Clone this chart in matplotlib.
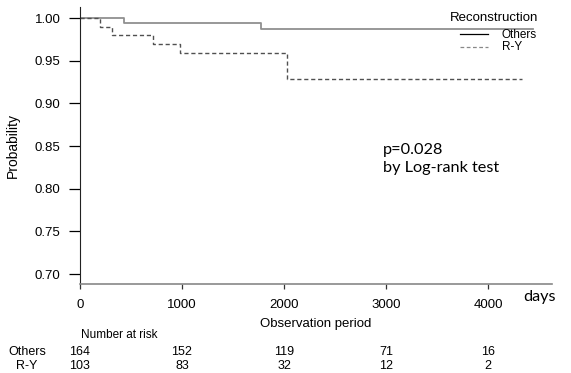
import matplotlib.pyplot as plt
import matplotlib.transforms as mtransforms

# Curvas de sobrevida (Kaplan-Meier)
others_dias = [0, 430, 1771, 4440]
others_prob = [1.000, 0.994, 0.987, 0.987]
ry_dias = [0, 196, 317, 719, 980, 2033, 4330]
ry_prob = [1.000, 0.990, 0.980, 0.970, 0.959, 0.928, 0.928]

# Tabela de numero em risco
tempos_risco = [0, 1000, 2000, 3000, 4000]
risco_others = [164, 152, 119, 71, 16]
risco_ry = [103, 83, 32, 12, 2]

x_ticks = [0, 1000, 2000, 3000, 4000]
y_ticks = [0.70, 0.75, 0.80, 0.85, 0.90, 0.95, 1.00]

plt.rcParams['font.family'] = ['Liberation Sans', 'DejaVu Sans']

fig = plt.figure(figsize=(5.71, 3.73), dpi=100)
ax = fig.add_axes([0.140, 0.2386, 0.827, 0.7425])

ax.step(others_dias, others_prob, where='post', color='#909090', linewidth=1.3)
ax.step(ry_dias, ry_prob, where='post', color='#505050', linewidth=1.0,
        linestyle=(0, (3, 2)))

ax.set_xlim(0, 4627)
ax.set_ylim(0.6883, 1.0129)
ax.set_xticks(x_ticks)
ax.set_yticks(y_ticks)
ax.set_yticklabels(['%.2f' % v for v in y_ticks])
ax.tick_params(axis='y', labelsize=9.5, length=8, width=0.9, pad=6)
ax.tick_params(axis='x', labelsize=9.5, length=3.5, width=0.9, pad=7,
               colors='#333333', labelcolor='black')

for s in ['top', 'right']:
    ax.spines[s].set_visible(False)
ax.spines['left'].set_color('#222222')
ax.spines['bottom'].set_color('#888888')
ax.spines['bottom'].set_linewidth(1.2)

ax.set_ylabel('Probability', fontsize=10)
ax.yaxis.set_label_coords(-0.128, 0.5)
ax.set_xlabel('Observation period', fontsize=9.5, labelpad=5)

# Legenda manual
fig.text(494 / 571, 1 - 18 / 373, 'Reconstruction', fontsize=9.5, ha='center', va='center')
fig.lines.append(plt.Line2D([460 / 571, 488 / 571], [1 - 34 / 373] * 2, color='black',
                            linewidth=0.9, transform=fig.transFigure))
fig.lines.append(plt.Line2D([460 / 571, 488 / 571], [1 - 47 / 373] * 2, color='#888888',
                            linewidth=0.9, linestyle=(0, (3, 2)), transform=fig.transFigure))
fig.text(502 / 571, 1 - 35 / 373, 'Others', fontsize=8.5, ha='left', va='center')
fig.text(502 / 571, 1 - 47 / 373, 'R-Y', fontsize=8.5, ha='left', va='center')

# Texto do teste
fig.text(383 / 571, 1 - 150 / 373, 'p=0.028', fontsize=11.7, family='Lato', va='center')
fig.text(383 / 571, 1 - 168 / 373, 'by Log-rank test', fontsize=11.7, family='Lato', va='center')
fig.text(523 / 571, 1 - 297 / 373, 'days', fontsize=11.7, family='Lato', va='center')

# Numero em risco
trans = mtransforms.blended_transform_factory(ax.transData, fig.transFigure)
fig.text(81 / 571, 1 - 335 / 373, 'Number at risk', fontsize=8.5, va='center')
fig.text(27 / 571, 1 - 352 / 373, 'Others', fontsize=9, ha='center', va='center')
fig.text(27 / 571, 1 - 366 / 373, 'R-Y', fontsize=9, ha='center', va='center')
for t, a, b in zip(tempos_risco, risco_others, risco_ry):
    ax.text(t, 1 - 352 / 373, str(a), fontsize=9, ha='center', va='center', transform=trans)
    ax.text(t, 1 - 366 / 373, str(b), fontsize=9, ha='center', va='center', transform=trans)

plt.savefig('out.png', dpi=100)
